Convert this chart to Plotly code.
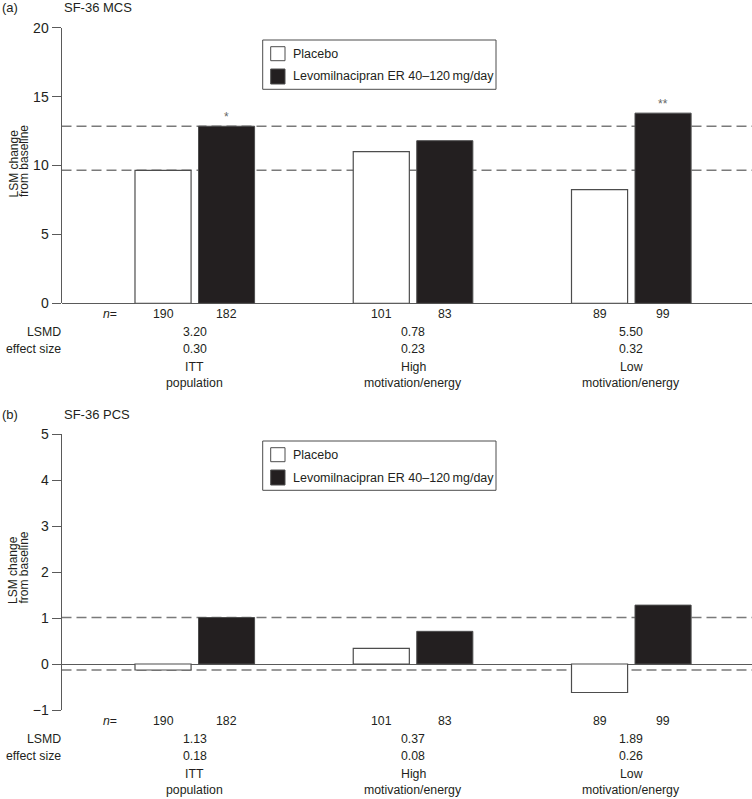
import plotly.graph_objects as go

# ---------------- data ----------------
categories = ["ITT<br>population", "High<br>motivation/energy", "Low<br>motivation/energy"]
series_names = ["Placebo", "Levomilnacipran ER 40\u2013120\u2009mg/day"]

mcs_placebo = [9.65, 11.0, 8.25]
mcs_levo = [12.85, 11.8, 13.8]
pcs_placebo = [-0.13, 0.34, -0.62]
pcs_levo = [1.01, 0.71, 1.28]

n_placebo = [190, 101, 89]
n_levo = [182, 83, 99]

mcs_lsmd = ["3.20", "0.78", "5.50"]
mcs_effect = ["0.30", "0.23", "0.32"]
pcs_lsmd = ["1.13", "0.37", "1.89"]
pcs_effect = ["0.18", "0.08", "0.26"]

mcs_sig = ["*", "", "**"]
pcs_sig = ["", "", ""]

mcs_ticks = [0, 5, 10, 15, 20]
pcs_ticks = [-1, 0, 1, 2, 3, 4, 5]

panel_labels = ["(a)", "(b)"]
panel_titles = ["SF-36 MCS", "SF-36 PCS"]
y_title_lines = ["LSM change", "from baseline"]

# ---------------- geometry / style ----------------
W, H = 752, 799
FONT = "Liberation Sans, Arial, Helvetica, sans-serif"
TXT = "#231f20"
AX = "#5a5a5a"
DARK = "#231f20"


def px(x):
    return x / W


def py(y):
    return 1 - y / H


BW = 0.257
OFF_P = -0.275
OFF_L = 0.016
XR = [-0.6117, 2.552]
xs = list(range(len(categories)))

panels = [
    dict(pl=mcs_placebo, lv=mcs_levo, lsmd=mcs_lsmd, eff=mcs_effect, sig=mcs_sig,
         ticks=mcs_ticks, yr=[0, 20], top=27.7, bot=303.3, head=7.5, leg=40.0),
    dict(pl=pcs_placebo, lv=pcs_levo, lsmd=pcs_lsmd, eff=pcs_effect, sig=pcs_sig,
         ticks=pcs_ticks, yr=[-1, 5], top=434.0, bot=710.0, head=415.0, leg=441.0),
]

fig = go.Figure()
shapes = []
annotations = []
layout = {}

for k, p in enumerate(panels):
    sx = "" if k == 0 else str(k + 1)
    xa, ya = "x" + sx, "y" + sx
    fig.add_trace(go.Bar(
        x=xs, y=p["pl"], width=BW, offset=OFF_P, name=series_names[0],
        marker=dict(color="white", line=dict(color="#4d4d4d", width=1.2)),
        xaxis=xa, yaxis=ya, showlegend=False, hoverinfo="y"))
    fig.add_trace(go.Bar(
        x=xs, y=p["lv"], width=BW, offset=OFF_L, name=series_names[1],
        marker=dict(color=DARK, line=dict(color="#4d4d4d", width=1.0)),
        xaxis=xa, yaxis=ya, showlegend=False, hoverinfo="y"))

    layout["xaxis" + sx] = dict(domain=[px(61.5), 1], range=XR, anchor=ya, automargin=False,
                                showline=False, showgrid=False, zeroline=False,
                                showticklabels=False, ticks="", fixedrange=True)
    layout["yaxis" + sx] = dict(domain=[py(p["bot"]), py(p["top"])], range=p["yr"], anchor=xa,
                                automargin=False,
                                tickvals=p["ticks"], showline=True, linecolor=AX, linewidth=1,
                                ticks="outside", ticklen=9, tickwidth=1, tickcolor=AX,
                                showgrid=False, zeroline=True, zerolinecolor=AX, zerolinewidth=1,
                                tickfont=dict(size=14, color=TXT, family=FONT), fixedrange=True)

    # reference dashed lines at ITT values
    for v in (p["pl"][0], p["lv"][0]):
        shapes.append(dict(type="line", xref=xa + " domain", x0=0, x1=1, yref=ya, y0=v, y1=v,
                           line=dict(color="#7a7a7a", width=1.5, dash="10px,5px"), layer="below"))

    # significance marks
    for i, s in enumerate(p["sig"]):
        if s:
            annotations.append(dict(xref=xa, yref=ya, x=i + OFF_L + BW / 2, y=p["lv"][i],
                                    text=s, showarrow=False, yanchor="bottom", yshift=0,
                                    font=dict(size=12, color="#666666", family=FONT)))

    # panel headings
    annotations.append(dict(xref="paper", yref="paper", x=px(0), y=py(p["head"]), text=panel_labels[k],
                            showarrow=False, xanchor="left", yanchor="middle",
                            font=dict(size=13, color=TXT, family=FONT)))
    annotations.append(dict(xref="paper", yref="paper", x=px(62), y=py(p["head"]), text=panel_titles[k],
                            showarrow=False, xanchor="left", yanchor="middle",
                            font=dict(size=13, color=TXT, family=FONT)))
    # y title (two rotated lines, start-aligned)
    mid = (p["top"] + p["bot"]) / 2
    for j, line in enumerate(y_title_lines):
        annotations.append(dict(xref="paper", yref="paper", x=px(13 + 10.5 * j), y=py(mid + 33),
                                text=line, textangle=-90, showarrow=False,
                                xanchor="center", yanchor="bottom", borderpad=0,
                                font=dict(size=12, color=TXT, family=FONT)))

    # table below axis
    b = p["bot"]
    tf = dict(size=12.3, color=TXT, family=FONT)
    annotations.append(dict(xref="paper", yref="paper", x=px(110), y=py(b + 10.5),
                            text="<i>n</i>=", showarrow=False, xanchor="center", yanchor="middle", font=tf))
    annotations.append(dict(xref="paper", yref="paper", x=px(62.7), y=py(b + 29),
                            text="LSMD", showarrow=False, xanchor="right", yanchor="middle", font=tf))
    annotations.append(dict(xref="paper", yref="paper", x=px(62.7), y=py(b + 45.5),
                            text="effect size", showarrow=False, xanchor="right", yanchor="middle", font=tf))
    for i in xs:
        annotations.append(dict(xref=xa, yref="paper", x=i + OFF_P + BW / 2, y=py(b + 10.5),
                                text=str(n_placebo[i]), showarrow=False, yanchor="middle", font=tf))
        annotations.append(dict(xref=xa, yref="paper", x=i + OFF_L + BW / 2, y=py(b + 10.5),
                                text=str(n_levo[i]), showarrow=False, yanchor="middle", font=tf))
        c = i + (OFF_P + OFF_L + BW) / 2
        annotations.append(dict(xref=xa, yref="paper", x=c, y=py(b + 29),
                                text=p["lsmd"][i], showarrow=False, yanchor="middle", font=tf))
        annotations.append(dict(xref=xa, yref="paper", x=c, y=py(b + 45.5),
                                text=p["eff"][i], showarrow=False, yanchor="middle", font=tf))
        for j, line in enumerate(categories[i].split("<br>")):
            annotations.append(dict(xref=xa, yref="paper", x=c, y=py(b + 63.5 + 16.5 * j),
                                    text=line, showarrow=False, yanchor="middle", font=tf))

    # legend box (drawn)
    L = p["leg"]
    shapes.append(dict(type="rect", xref="paper", yref="paper", x0=px(262.7), x1=px(496),
                       y0=py(L), y1=py(L + 49.3), line=dict(color="#4d4d4d", width=1),
                       fillcolor="rgba(0,0,0,0)"))
    shapes.append(dict(type="rect", xref="paper", yref="paper", x0=px(270.7), x1=px(285),
                       y0=py(L + 6.7), y1=py(L + 20.7), line=dict(color="#4d4d4d", width=1),
                       fillcolor="white"))
    shapes.append(dict(type="rect", xref="paper", yref="paper", x0=px(270.7), x1=px(285),
                       y0=py(L + 29), y1=py(L + 44), line=dict(color="#4d4d4d", width=1),
                       fillcolor=DARK))
    lf = dict(size=12.5, color=TXT, family=FONT)
    annotations.append(dict(xref="paper", yref="paper", x=px(291), y=py(L + 13.7), text=series_names[0],
                            showarrow=False, xanchor="left", yanchor="middle", font=lf))
    annotations.append(dict(xref="paper", yref="paper", x=px(291), y=py(L + 36.5), text=series_names[1],
                            showarrow=False, xanchor="left", yanchor="middle", font=lf))

fig.update_layout(
    template="none",
    width=W, height=H, autosize=False,
    margin=dict(l=0, r=0, t=0, b=0, pad=0, autoexpand=False),
    paper_bgcolor="white", plot_bgcolor="white",
    barmode="overlay", showlegend=False,
    font=dict(family=FONT, color=TXT),
    shapes=shapes, annotations=annotations,
    **layout,
)

fig.write_html(
    "out.html",
    config={"displayModeBar": False},
    post_script="document.body.style.margin='0';document.body.style.padding='0';"
                "document.body.style.overflow='hidden';",
)
